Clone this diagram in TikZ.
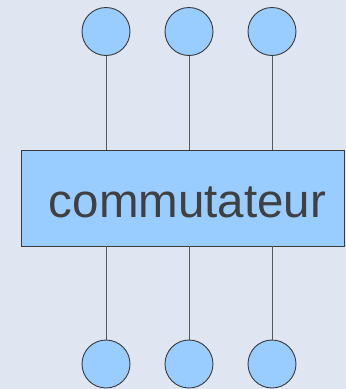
\documentclass[tikz,border=0pt]{standalone}
\usepackage{fontspec}
\setmainfont{Liberation Sans}
\definecolor{bg}{HTML}{DFE6F2}
\definecolor{boxfill}{HTML}{99CCFF}
\definecolor{edge}{HTML}{3A3A3A}
\definecolor{txt}{HTML}{404040}
\begin{document}
\begin{tikzpicture}[x=1pt,y=-1pt,
  port/.style={circle,draw=edge,fill=boxfill,line width=0.9pt,minimum size=48pt,inner sep=0pt},
  switchbox/.style={draw=edge,fill=boxfill,line width=0.9pt,minimum width=323pt,minimum height=96pt,inner sep=0pt,text=txt,font=\fontsize{47.5}{50}\selectfont},
  wire/.style={draw=edge!85,line width=0.9pt}]
\fill[bg] (0,0) rectangle (346,389);
\useasboundingbox (0,0) rectangle (346,389);
\node[switchbox] (sw) at (182.5,198) {\hspace*{10pt}\raisebox{-4pt}[\height][0pt]{commutateur}};
\node[port] (t1) at (106,31.5) {};
\node[port] (t2) at (189,31.5) {};
\node[port] (t3) at (272,31.5) {};
\node[port] (b1) at (106,364) {};
\node[port] (b2) at (189,364) {};
\node[port] (b3) at (272,364) {};
\draw[wire] (t1) -- (t1 |- sw.north);
\draw[wire] (t2) -- (t2 |- sw.north);
\draw[wire] (t3) -- (t3 |- sw.north);
\draw[wire] (b1) -- (b1 |- sw.south);
\draw[wire] (b2) -- (b2 |- sw.south);
\draw[wire] (b3) -- (b3 |- sw.south);
\end{tikzpicture}
\end{document}
